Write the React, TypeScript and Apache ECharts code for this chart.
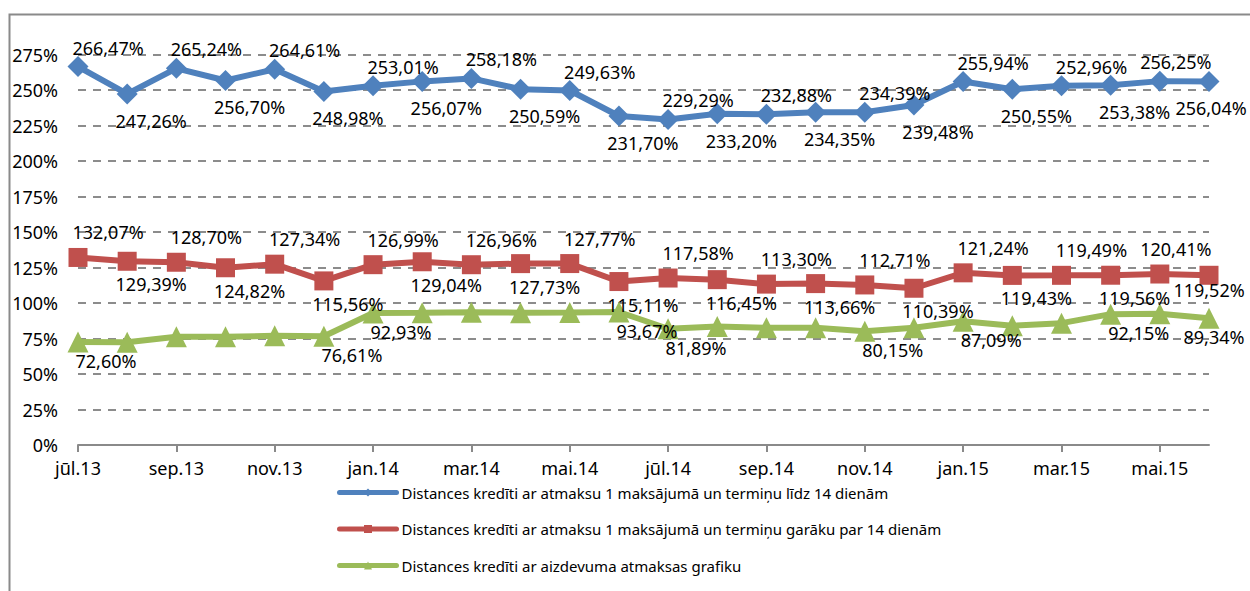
import React, { useEffect, useRef } from "react";
import * as echarts from "echarts";

const months = [
  "jūl.13", "aug.13", "sep.13", "okt.13", "nov.13", "dec.13",
  "jan.14", "feb.14", "mar.14", "apr.14", "mai.14", "jūn.14",
  "jūl.14", "aug.14", "sep.14", "okt.14", "nov.14", "dec.14",
  "jan.15", "feb.15", "mar.15", "apr.15", "mai.15", "jūn.15",
];

const seriesNames = [
  "Distances kredīti ar atmaksu 1 maksājumā un termiņu līdz 14 dienām",
  "Distances kredīti ar atmaksu 1 maksājumā un termiņu garāku par 14 dienām",
  "Distances kredīti ar aizdevuma atmaksas grafiku",
];

const shortTerm = [
  266.47, 247.26, 265.24, 256.7, 264.61, 248.98, 253.01, 256.07, 258.18, 250.59, 249.63, 231.7,
  229.29, 233.2, 232.88, 234.35, 234.39, 239.48, 255.94, 250.55, 252.96, 253.38, 256.25, 256.04,
];

const longTerm = [
  132.07, 129.39, 128.7, 124.82, 127.34, 115.56, 126.99, 129.04, 126.96, 127.73, 127.77, 115.11,
  117.58, 116.45, 113.3, 113.66, 112.71, 110.39, 121.24, 119.43, 119.49, 119.56, 120.41, 119.52,
];

const schedule = [
  72.6, 72.4, 76.3, 76.2, 76.9, 76.61, 92.93, 93.1, 93.5, 93.2, 93.3, 93.67,
  81.89, 83.4, 82.6, 82.5, 80.15, 82.6, 87.09, 84.0, 85.8, 92.15, 92.4, 89.34,
];

// months whose "schedule" value carries a data label in the original
const scheduleLabeled = ["jūl.13", "dec.13", "jan.14", "jūn.14", "jūl.14", "nov.14", "jan.15", "apr.15", "jūn.15"];

const yTicks = { min: 0, max: 275, interval: 25 };

const fmt = (v: number) => v.toFixed(2).replace(".", ",") + "%";

function labelDx(i: number, n: number, base: number) {
  if (i === n - 1) return 2;
  if (i === n - 2) return 16;
  return base;
}

export default function App() {
  const ref = useRef<HTMLDivElement>(null);

  useEffect(() => {
    if (!ref.current) return;
    const chart = echarts.init(ref.current, undefined, { renderer: "svg" });
    const n = months.length;

    const alternating = (vals: number[], above: number, below: number) =>
      vals.map((v, i) => ({
        value: v,
        label: {
          show: true,
          offset: [labelDx(i, n, i % 2 === 0 ? 30 : 24), i % 2 === 0 ? above : below],
        },
      }));

    const blueData = alternating(shortTerm, -19, 27);
    const redData = alternating(longTerm, -25, 23).map((d, i) =>
      i === n - 1 ? { ...d, label: { show: true, offset: [0, 15] } } : d
    );
    const greenData = schedule.map((v, i) => ({
      value: v,
      label: {
        show: scheduleLabeled.includes(months[i]),
        offset: [i === n - 1 ? 5 : 28, 19],
      },
    }));

    const labelStyle = {
      position: "inside" as const,
      formatter: (p: any) => fmt(p.value),
      fontSize: 18,
      color: "#000",
      fontFamily: "Noto Sans",
    };

    chart.setOption({
      animation: false,
      backgroundColor: "#fff",
      textStyle: { fontFamily: "Noto Sans" },
      grid: { left: 78, right: 41, top: 54.5, bottom: 146, containLabel: false },
      xAxis: {
        type: "category",
        data: months,
        boundaryGap: false,
        axisLine: { lineStyle: { color: "#8a8a8a", width: 2 } },
        axisTick: { interval: 1, length: 7, lineStyle: { color: "#8a8a8a", width: 2 } },
        axisLabel: { interval: 1, fontSize: 18, color: "#000", margin: 14 },
        splitLine: { show: false },
      },
      yAxis: {
        type: "value",
        min: yTicks.min,
        max: yTicks.max,
        interval: yTicks.interval,
        axisLine: { show: false },
        axisTick: { show: false },
        axisLabel: { formatter: (v: number) => v + "%", fontSize: 18, color: "#000", margin: 20 },
        splitLine: { lineStyle: { color: "#8c8c8c", width: 2, type: [8, 7] } },
      },
      legend: {
        orient: "vertical",
        left: 337,
        top: 484,
        padding: 0,
        itemWidth: 57,
        itemHeight: 10,
        itemGap: 19.5,
        lineStyle: { width: 5, cap: "round" },
        textStyle: { fontSize: 15, color: "#000", lineHeight: 17, fontFamily: "Noto Sans" },
        data: seriesNames,
      },
      series: [
        {
          name: seriesNames[0],
          type: "line",
          data: blueData,
          symbol: "diamond",
          symbolSize: 21,
          lineStyle: { color: "#4F81BD", width: 6 },
          itemStyle: { color: "#4F81BD" },
          label: labelStyle,
          z: 3,
        },
        {
          name: seriesNames[1],
          type: "line",
          data: redData,
          symbol: "rect",
          symbolSize: 19,
          lineStyle: { color: "#C0504D", width: 6 },
          itemStyle: { color: "#C0504D" },
          label: labelStyle,
          z: 3,
        },
        {
          name: seriesNames[2],
          type: "line",
          data: greenData,
          symbol: "triangle",
          symbolSize: 21,
          lineStyle: { color: "#9BBB59", width: 6 },
          itemStyle: { color: "#9BBB59" },
          label: labelStyle,
          z: 3,
        },
      ],
      graphic: [
        {
          type: "rect",
          left: 7,
          top: 12,
          shape: { x: 0, y: 0, width: 1260, height: 600 },
          style: { fill: "none", stroke: "#8a8a8a", lineWidth: 2 },
          silent: true,
          z: -1,
        },
      ],
    });

    return () => chart.dispose();
  }, []);

  return (
    <div
      ref={ref}
      style={{ position: "fixed", left: 0, top: 0, width: 1250, height: 591, background: "#fff" }}
    />
  );
}
